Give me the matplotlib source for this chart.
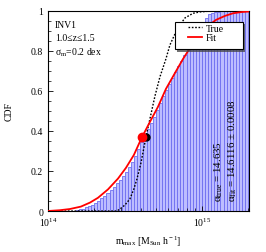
import numpy as np
import matplotlib
matplotlib.use("Agg")
import matplotlib.pyplot as plt
from matplotlib.ticker import MultipleLocator
from matplotlib.patches import Rectangle

plt.rcParams['font.family'] = ['Liberation Serif', 'DejaVu Serif']
plt.rcParams['mathtext.fontset'] = 'custom'
plt.rcParams['mathtext.rm'] = 'Liberation Serif'
plt.rcParams['mathtext.it'] = 'Liberation Serif:italic'
plt.rcParams['mathtext.default'] = 'regular'
plt.rcParams['font.size'] = 7

# cumulative histogram: bins of 0.02 dex in log10(m), left edges
bin_width = 0.02
bin_left = np.round(np.linspace(14.0, 15.28, 65), 2)
bin_cdf = [0, 0, 0, 0, 0, 0, 0, 0, 0, 0.003,
           0.008, 0.012, 0.018, 0.025, 0.032, 0.042, 0.052, 0.064, 0.077, 0.09,
           0.105, 0.12, 0.138, 0.155, 0.175, 0.195, 0.22, 0.245, 0.275, 0.31,
           0.345, 0.375, 0.41, 0.44, 0.47, 0.505, 0.54, 0.575, 0.605, 0.635,
           0.665, 0.695, 0.725, 0.75, 0.78, 0.805, 0.83, 0.855, 0.88, 0.905,
           0.935, 0.965, 0.985, 0.99, 0.993, 0.995, 0.997, 0.998, 0.999, 1.0,
           1.0, 1.0, 1.0, 1.0, 1.0]

# fitted CDF (red)
fit_logm = [14.0, 14.078, 14.143, 14.214, 14.273, 14.325, 14.39, 14.455, 14.506,
            14.558, 14.61, 14.662, 14.714, 14.766, 14.825, 14.877, 14.935, 14.987,
            15.039, 15.091, 15.149, 15.201, 15.253, 15.305]
fit_cdf = [0.0, 0.004, 0.01, 0.022, 0.042, 0.066, 0.108, 0.162, 0.215,
           0.28, 0.368, 0.445, 0.52, 0.61, 0.69, 0.76, 0.83, 0.885,
           0.925, 0.955, 0.975, 0.988, 0.994, 0.997]

# true CDF (black dotted)
true_logm = [14.0, 14.448, 14.468, 14.5, 14.532, 14.558, 14.578, 14.604, 14.636,
             14.662, 14.695, 14.727, 14.766, 14.792, 14.825, 14.857, 14.89, 14.942,
             14.987, 15.052, 15.305]
true_cdf = [0.0, 0.0, 0.01, 0.03, 0.06, 0.11, 0.16, 0.24, 0.368,
            0.46, 0.575, 0.67, 0.76, 0.83, 0.885, 0.93, 0.965, 0.988,
            0.995, 0.999, 1.0]

alpha_true = 14.635
alpha_fit = 14.6116
alpha_err = 0.0008
cdf_at_alpha = 0.368

fig = plt.figure(figsize=(2.66, 2.53), dpi=100)
ax = fig.add_axes([0.180, 0.162, 0.756, 0.791])

edges = 10 ** bin_left
widths = 10 ** (bin_left + bin_width) - edges
ax.bar(edges, bin_cdf, width=widths, align='edge', color='#bdbdff',
       edgecolor='#6e6ef0', linewidth=0.6, zorder=1)

ax.plot(10 ** np.array(true_logm), true_cdf, color='black', ls=(0, (1.2, 1.2)),
        lw=1.0, label='True', zorder=3)
ax.plot(10 ** np.array(fit_logm), fit_cdf, color='red', lw=1.3, label='Fit', zorder=3)

ax.plot(10 ** alpha_true, cdf_at_alpha, 'o', color='black', ms=5, zorder=4)
ax.plot(10 ** alpha_fit, cdf_at_alpha, 'o', color='red', ms=6, zorder=5)

ax.set_xscale('log')
ax.set_xlim(1e14, 10 ** 15.305)
ax.set_ylim(0, 1)
ax.yaxis.set_minor_locator(MultipleLocator(0.05))
ax.set_yticks([0, 0.2, 0.4, 0.6, 0.8, 1.0])
ax.set_yticklabels(['0', '0.2', '0.4', '0.6', '0.8', '1'])
ax.tick_params(which='both', direction='in', top=False, right=False, labelsize=7)
ax.tick_params(which='major', length=3.5, width=0.6)
ax.tick_params(which='minor', length=2, width=0.5)
for s in ax.spines.values():
    s.set_linewidth(0.8)

ax.set_xlabel(r'm$_{\rm max}$ [M$_{\rm Sun}$ h$^{\rm -1}$]', fontsize=7, labelpad=4)
ax.set_ylabel('CDF', fontsize=7, labelpad=12)

ax.text(0.035, 0.955, 'INV1', transform=ax.transAxes, fontsize=7, va='top')
ax.text(0.035, 0.89, '1.0\u2264z\u22641.5', transform=ax.transAxes, fontsize=7, va='top')
ax.text(0.035, 0.825, r'$\sigma_{\rm m}$=0.2 dex', transform=ax.transAxes, fontsize=7, va='top')

ax.text(0.851, 0.05, r'$\alpha_{\rm true}$ = %.3f' % alpha_true, transform=ax.transAxes,
        rotation=90, fontsize=7.8, ha='center', va='bottom', zorder=6)
ax.text(0.921, 0.05, r'$\alpha_{\rm fit}$ = %.4f $\pm$ %.4f' % (alpha_fit, alpha_err),
        transform=ax.transAxes, rotation=90, fontsize=7.8, ha='center', va='bottom', zorder=6)

# legend box drawn by hand (wide, square, with drop shadow)
box_x, box_y, box_w, box_h = 0.632, 0.81, 0.338, 0.135
ax.add_patch(Rectangle((box_x + 0.012, box_y - 0.013), box_w, box_h,
                       transform=ax.transAxes, facecolor='#444444',
                       edgecolor='none', alpha=0.75, zorder=7))
ax.add_patch(Rectangle((box_x, box_y), box_w, box_h, transform=ax.transAxes,
                       facecolor='white', edgecolor='black', lw=0.8, zorder=8))
leg = ax.legend(loc='upper left', bbox_to_anchor=(0.695, 0.935), frameon=False,
                fontsize=7, handlelength=1.45, borderpad=0, borderaxespad=0,
                labelspacing=0.05, handletextpad=0.4)
leg.set_zorder(9)

fig.savefig('out.png', dpi=100)
